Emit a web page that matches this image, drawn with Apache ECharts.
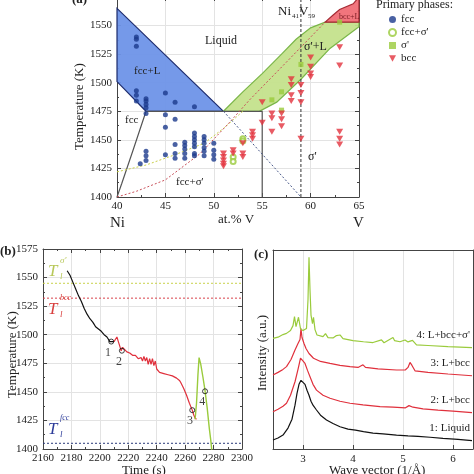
<!DOCTYPE html>
<html><head><meta charset="utf-8">
<script src="https://cdn.jsdelivr.net/npm/echarts@6/dist/echarts.min.js"></script>
<style>html,body{margin:0;padding:0;background:#fff}#c{width:474px;height:474px}</style>
</head><body><div id="c"></div>
<script>
// ---------- Panel (a) data ----------
const aXTicks = [40, 45, 50, 55, 60, 65];
const aYTicks = [1400, 1425, 1450, 1475, 1500, 1525, 1550];
const fccLPoly = [[40,1565],[51,1475],[43,1475],[40,1501]];
const sigLPoly = [[51,1475],[53,1492],[55,1508],[57,1525],[58.5,1538],[60,1548],[61.5,1553],[65,1553],[65,1549],[62,1530],[59,1503],[56.5,1483],[54.7,1475]];
const bccLPoly = [[61.5,1553],[62.3,1559],[63,1564],[64.4,1569],[65,1575],[65,1553]];
const fccSolvus = [[43,1475],[41.7,1442],[40.5,1412],[40,1400]];
const eutLine = [[43,1475],[55,1475],[55,1400]];
const sigMetaLine = [[40,1422],[43,1428],[46,1437],[49,1447],[51,1460],[53,1475]];
const bccMetaLine = [[40,1400],[42,1405],[45,1415],[48.6,1438],[51.7,1466],[53.7,1485],[57.5,1518],[61.5,1553]];
const fccMetaLine = [[51,1475],[59,1400]];
const compLine = [[59,1400],[59,1575]];
const fccPts = [[42,1540],[42,1538],[42,1532],[42,1493],[42,1489],[42,1484],[43,1486],[43,1484],[43,1481],[43,1478],[43,1473],[45,1491],[46,1483],[48,1479],[42.4,1429],[43,1440],[43,1436],[43,1432],[45,1472],[45,1461],[45,1437],[46,1468],[46,1446],[46,1438],[46,1434],[47,1448],[47,1445],[47,1442],[47,1438],[47,1434],[48,1456],[48,1453],[48,1450],[48,1447],[48,1444],[48,1438],[48,1436],[49,1453],[49,1450],[49,1447],[49,1443],[49,1440],[49,1436],[50,1447],[50,1441],[50,1437],[50,1433]];
const fccSigPts = [[52,1435],[52,1431],[53,1451],[53,1449]];
const sigPts = [[56,1485],[57,1492],[57,1476],[59,1516],[63,1553]];
const bccPts = [[51,1438],[51,1435],[51,1432],[51,1429],[51,1427],[52,1441],[52,1438],[53,1447],[53,1438],[53,1435],[54,1457],[54,1454],[54,1451],[55,1483],[55,1465],[56,1473],[56,1469],[56,1457],[57,1473],[57,1468],[57,1462],[58,1503],[58,1498],[58,1489],[58,1484],[59,1498],[59,1491],[59,1483],[59,1451],[60,1522],[60,1514],[60,1508],[60,1505],[63,1531],[63,1515],[63,1457],[63,1451],[63,1446]];

// ---------- Panel (b) data ----------
const bXTicks = [2160, 2180, 2200, 2220, 2240, 2260, 2280, 2300];
const coolBlack = [[2177,1556],[2179,1552],[2181,1546],[2183,1540],[2185,1534],[2187,1529],[2189,1523],[2191,1518],[2193,1514],[2195,1511],[2196,1509],[2197,1507],[2198,1507],[2199,1505],[2201,1503],[2203,1500],[2205,1498],[2206,1496],[2207,1494],[2208,1493],[2209,1494],[2210,1494]];
const coolRed = [[2210,1494],[2211,1496],[2212,1498],[2213,1494],[2214,1490],[2215,1486],[2216,1489],[2217,1488],[2219,1485],[2221,1484],[2223,1482],[2225,1482],[2227,1479],[2229,1480],[2230,1477],[2231,1481],[2232,1477],[2233,1480],[2234,1474],[2235,1479],[2236,1474],[2237,1479],[2238,1473],[2239,1477],[2240,1470],[2242,1467],[2245,1466],[2248,1465],[2251,1464],[2254,1462],[2256,1460],[2257,1458],[2259,1453],[2261,1447],[2263,1440],[2265,1434],[2266,1430],[2267,1427],[2268,1426]];
const coolGreen = [[2267,1426],[2268,1440],[2269,1465],[2269.8,1480],[2271,1474],[2272.5,1463],[2274,1451],[2275.5,1436],[2277,1418],[2278,1408],[2279,1396]];
const tSigma = 1545, tBcc = 1532, tFcc = 1405;
const bMarks = [[2208,1494],[2215.5,1486],[2265,1434],[2274,1450.5]];
const bMarkLabels = ['1','2','3','4'];
const bLabelPos = [[2205.8,1484],[2213.5,1476],[2263.5,1425],[2272,1441]];

// ---------- Panel (c) data ----------
const cXTicks = [3, 4, 5, 6];
const spec1 = [[2.4,4.5],[2.5,5.5],[2.6,7],[2.7,10.5],[2.78,15],[2.84,22],[2.88,28],[2.92,32.5],[2.96,34.5],[3.0,34],[3.04,32.5],[3.08,29.5],[3.12,27],[3.16,24],[3.2,22],[3.27,19.6],[3.35,17],[3.47,14.6],[3.6,12.8],[3.74,11.2],[3.9,10],[4.05,9.5],[4.21,8.7],[4.4,8],[4.6,7.6],[4.87,7],[5.1,6.6],[5.3,6.3],[5.54,5.9],[5.8,5.3],[6.1,4.8],[6.38,4.2]];
const spec2 = [[2.4,18.7],[2.5,20],[2.6,21.5],[2.67,23],[2.75,27],[2.84,33.8],[2.9,40],[2.95,45.6],[2.99,44.5],[3.04,43],[3.09,39.5],[3.14,36.3],[3.2,32.5],[3.27,29.6],[3.4,27],[3.54,25.5],[3.74,24],[3.94,23],[4.2,22.2],[4.54,21.3],[4.8,21],[5.05,20.7],[5.12,21.8],[5.15,22.2],[5.2,21],[5.4,20.2],[5.7,19.5],[6.0,19],[6.38,18.3]];
const spec3 = [[2.4,37.2],[2.5,38.5],[2.6,40],[2.67,41.4],[2.76,45],[2.84,49.7],[2.9,53],[2.94,55],[2.96,60.5],[2.98,56],[3.02,53],[3.06,50.5],[3.12,48],[3.21,45.6],[3.35,44],[3.54,43],[3.74,42],[3.94,41.4],[4.1,41],[4.2,42.3],[4.25,41],[4.5,40.3],[4.87,39.7],[5.05,39.8],[5.1,41],[5.14,43.5],[5.18,42],[5.24,39.3],[5.5,38.5],[5.9,37.7],[6.38,36.8]];
const spec4 = [[2.4,55.6],[2.5,56.2],[2.6,57.5],[2.67,58.1],[2.75,59.5],[2.8,62],[2.83,66.5],[2.86,61.5],[2.91,66.2],[2.95,60.5],[3.0,59.5],[3.07,60.6],[3.1,75],[3.12,96.3],[3.14,80],[3.16,67.3],[3.19,63],[3.21,66.2],[3.24,60],[3.28,57.3],[3.4,56.5],[3.45,58],[3.5,56],[3.6,55.8],[3.67,57],[3.7,56.5],[3.74,57.3],[3.8,55.5],[4.0,54.5],[4.21,53.9],[4.4,53.5],[4.57,54.8],[4.62,53.4],[4.8,56],[4.83,54.5],[4.94,53.9],[5.04,54.8],[5.1,53.8],[5.19,54.6],[5.27,52.3],[5.5,52],[5.9,51.4],[6.38,50.9]];
const specNames = ['1: Liquid','2: L+bcc','3: L+bcc',"4: L+bcc+σ'"];

// ---------- styling ----------
const FONT = 'Liberation Serif';
const BLUE = '#1c3a8c', RED = '#e2323d', GREEN = '#9acb3c', AX = '#444';
const downTri = 'path://M0,0L10,0L5,9Z';
const plainNum = v => String(v);

function polySeries(poly, fill, stroke, xi, yi) {
  return {
    type: 'custom', xAxisIndex: xi, yAxisIndex: yi, silent: true, z: 1,
    data: [0],
    renderItem: function (params, api) {
      const pts = poly.map(p => api.coord(p));
      return { type: 'polygon', shape: { points: pts },
        style: { fill: fill, stroke: stroke, lineWidth: 1.2 } };
    }
  };
}
function lineS(data, color, type, width, xi, yi, z) {
  return { type: 'line', data: data, xAxisIndex: xi, yAxisIndex: yi, symbol: 'none',
    silent: true, z: z || 2, lineStyle: { color: color, type: type, width: width }, animation: false };
}
function frameAxisX(gi, pos, min, max, interval, showLabel, extra) {
  return Object.assign({
    type: 'value', gridIndex: gi, position: pos, min: min, max: max, interval: interval,
    axisLine: { show: true, onZero: false, lineStyle: { color: AX, width: 1 } },
    axisTick: { show: true, inside: true, length: 4, lineStyle: { color: AX } },
    minorTick: { show: true, splitNumber: 2, length: 2, lineStyle: { color: AX } },
    axisLabel: { show: showLabel, fontFamily: FONT, fontSize: 11, color: '#222', margin: 4, formatter: plainNum },
    splitLine: { show: false }
  }, extra || {});
}
function frameAxisY(gi, pos, min, max, interval, showLabel, extra) {
  return Object.assign({
    type: 'value', gridIndex: gi, position: pos, min: min, max: max, interval: interval,
    axisLine: { show: true, onZero: false, lineStyle: { color: AX, width: 1 } },
    axisTick: { show: true, inside: true, length: 4, lineStyle: { color: AX } },
    minorTick: { show: true, splitNumber: 2, length: 2, lineStyle: { color: AX } },
    axisLabel: { show: showLabel, fontFamily: FONT, fontSize: 11, color: '#222', margin: 5, formatter: plainNum },
    splitLine: { show: false }
  }, extra || {});
}
const grayGrid = { show: true, lineStyle: { color: '#e3e3e3', width: 1 } };

const chart = echarts.init(document.getElementById('c'), null, { renderer: 'canvas' });

function txt(x, y, s, size, opts) {
  return Object.assign({ type: 'text', x: x, y: y, silent: true, z: 100,
    style: Object.assign({ text: s, fontFamily: FONT, fontSize: size, fill: '#222' }, (opts && opts.style) || {}) },
    opts && opts.rot !== undefined ? { rotation: opts.rot } : {});
}

const graphics = [
  txt(72, -7, '(a)', 13, { style: { fontWeight: 'bold' } }),
  txt(0, 245, '(b)', 13, { style: { fontWeight: 'bold' } }),
  txt(254, 248, '(c)', 13, { style: { fontWeight: 'bold' } }),
  txt(73, 150, 'Temperature (K)', 13, { rot: Math.PI / 2 }),
  txt(110, 216, 'Ni', 15),
  txt(218, 213, 'at.% V', 13),
  txt(353, 216, 'V', 15),
  txt(205, 35, 'Liquid', 12),
  txt(134, 66, 'fcc+L', 11),
  txt(125, 115, 'fcc', 11),
  txt(176, 177, "fcc+σ'", 11),
  txt(304, 41, "σ'+L", 12),
  txt(308, 151, "σ'", 12),
  txt(339, 13, 'bcc+L', 8, { style: { fill: '#7a1b22' } }),
  txt(278, 5, 'Ni', 13), txt(292, 13, '41', 7), txt(299, 5, 'V', 13), txt(308, 13, '59', 7),
  txt(376, -1, 'Primary phases:', 12),
  txt(6, 398, 'Temperature (K)', 13, { rot: Math.PI / 2 }),
  txt(122, 464, 'Time (s)', 13),
  txt(48, 263, 'T', 17, { style: { fill: '#b8c85a', fontStyle: 'italic' } }),
  txt(60, 256, "σ'", 9, { style: { fill: '#b8c85a', fontStyle: 'italic' } }),
  txt(60, 272, 'l', 9, { style: { fill: '#b8c85a', fontStyle: 'italic' } }),
  txt(48, 301, 'T', 17, { style: { fill: '#d9413f', fontStyle: 'italic' } }),
  txt(60, 294, 'bcc', 8, { style: { fill: '#d9413f', fontStyle: 'italic' } }),
  txt(60, 310, 'l', 9, { style: { fill: '#d9413f', fontStyle: 'italic' } }),
  txt(48, 421, 'T', 17, { style: { fill: '#2e3d9a', fontStyle: 'italic' } }),
  txt(60, 414, 'fcc', 8, { style: { fill: '#2e3d9a', fontStyle: 'italic' } }),
  txt(60, 430, 'l', 9, { style: { fill: '#2e3d9a', fontStyle: 'italic' } }),
  txt(256, 391, 'Intensity (a.u.)', 13, { rot: Math.PI / 2 }),
  txt(329, 464, 'Wave vector (1/Å)', 13)
];
const specLabelY = [423, 395, 358, 330];
specNames.forEach((n, i) => {
  graphics.push({ type: 'text', x: 470, y: specLabelY[i], silent: true, z: 100,
    style: { text: n, fontFamily: FONT, fontSize: 11, fill: '#222', align: 'right' } });
});

const option = {
  animation: false,
  backgroundColor: '#fff',
  grid: [
    { left: 117, top: -3, width: 242, height: 200, outerBoundsMode: 'none', containLabel: false },
    { left: 43, top: 249, width: 199, height: 200, outerBoundsMode: 'none', containLabel: false },
    { left: 273, top: 250, width: 200, height: 199, outerBoundsMode: 'none', containLabel: false }
  ],
  xAxis: [
    frameAxisX(0, 'bottom', aXTicks[0], aXTicks[aXTicks.length - 1], 5, true, { splitLine: grayGrid }),
    frameAxisX(0, 'top', aXTicks[0], aXTicks[aXTicks.length - 1], 5, false),
    frameAxisX(1, 'bottom', bXTicks[0], bXTicks[bXTicks.length - 1], 20, true, { splitLine: grayGrid }),
    frameAxisX(1, 'top', bXTicks[0], bXTicks[bXTicks.length - 1], 20, false),
    frameAxisX(2, 'bottom', 2.4, 6.4, null, true, {
      interval: undefined,
      axisLabel: { show: true, fontFamily: FONT, fontSize: 11, color: '#222', margin: 5, customValues: cXTicks, formatter: plainNum },
      axisTick: { show: true, inside: true, length: 4, lineStyle: { color: AX }, customValues: cXTicks },
      minorTick: { show: false },
      splitLine: grayGrid }),
    frameAxisX(2, 'top', 2.4, 6.4, null, false, { interval: undefined, axisTick: { show: false }, minorTick: { show: false } })
  ],
  yAxis: [
    frameAxisY(0, 'left', aYTicks[0], 1575, 25, true, {
      splitLine: grayGrid,
      axisLabel: { show: true, fontFamily: FONT, fontSize: 11, color: '#222', margin: 5,
        formatter: v => (v >= 1575 ? '' : String(v)) } }),
    frameAxisY(0, 'right', aYTicks[0], 1575, 25, false),
    frameAxisY(1, 'left', 1400, 1575, 25, true, { splitLine: grayGrid }),
    frameAxisY(1, 'right', 1400, 1575, 25, false),
    frameAxisY(2, 'left', 0, 100, 20, false, { axisTick: { show: false }, minorTick: { show: false } }),
    frameAxisY(2, 'right', 0, 100, 20, false, { axisTick: { show: false }, minorTick: { show: false } })
  ],
  legend: {
    orient: 'vertical', left: 383, top: 9, itemWidth: 7, itemHeight: 7, itemGap: 2,
    textStyle: { fontFamily: FONT, fontSize: 11, color: '#222' },
    data: [
      { name: 'fcc', icon: 'circle' },
      { name: "fcc+σ'", icon: 'emptyCircle' },
      { name: "σ'", icon: 'rect' },
      { name: 'bcc', icon: downTri }
    ]
  },
  graphic: graphics,
  series: [
    polySeries(fccLPoly, 'rgba(110,148,232,0.95)', '#1f2d6e', 0, 0),
    polySeries(sigLPoly, 'rgba(196,226,140,0.95)', '#7ab648', 0, 0),
    polySeries(bccLPoly, 'rgba(240,110,118,0.95)', '#a52a33', 0, 0),
    lineS(fccSolvus, '#555', 'solid', 1.2, 0, 0, 3),
    lineS(eutLine, '#555', 'solid', 1.2, 0, 0, 3),
    lineS(sigMetaLine, '#c9d04a', [2, 2], 1, 0, 0, 3),
    lineS(bccMetaLine, '#c8505a', [2, 2], 1, 0, 0, 3),
    lineS(fccMetaLine, '#4a5a8a', [2, 2], 1, 0, 0, 3),
    lineS(compLine, '#333', [3, 2], 1, 0, 0, 3),
    { name: 'fcc', type: 'scatter', xAxisIndex: 0, yAxisIndex: 0, data: fccPts, symbol: 'circle', symbolSize: 5,
      itemStyle: { color: BLUE }, z: 5 },
    { name: "fcc+σ'", type: 'scatter', xAxisIndex: 0, yAxisIndex: 0, data: fccSigPts, symbol: 'emptyCircle', symbolSize: 5,
      itemStyle: { color: GREEN, borderColor: GREEN, borderWidth: 1 }, z: 5 },
    { name: "σ'", type: 'scatter', xAxisIndex: 0, yAxisIndex: 0, data: sigPts, symbol: 'rect', symbolSize: 5,
      itemStyle: { color: GREEN }, z: 5 },
    { name: 'bcc', type: 'scatter', xAxisIndex: 0, yAxisIndex: 0, data: bccPts, symbol: downTri, symbolSize: [7, 6],
      itemStyle: { color: RED }, z: 5 },
    lineS([[2160, tSigma], [2300, tSigma]], '#c8d24a', [2, 2], 1, 2, 2, 2),
    lineS([[2160, tBcc], [2300, tBcc]], '#d8404a', [2, 2], 1, 2, 2, 2),
    lineS([[2160, tFcc], [2300, tFcc]], '#2a3a7a', [2, 2], 1, 2, 2, 2),
    lineS(coolBlack, '#111', 'solid', 1.2, 2, 2, 4),
    lineS(coolRed, '#e0303c', 'solid', 1.2, 2, 2, 4),
    lineS(coolGreen, GREEN, 'solid', 1.4, 2, 2, 4),
    { type: 'scatter', xAxisIndex: 2, yAxisIndex: 2, data: bMarks, symbol: 'circle', symbolSize: 5,
      itemStyle: { color: 'rgba(255,255,255,0)', borderColor: '#111', borderWidth: 1 }, z: 6, silent: true },
    { type: 'scatter', xAxisIndex: 2, yAxisIndex: 2, symbolSize: 0, z: 6, silent: true,
      data: bLabelPos.map((p, i) => ({ value: p, label: { show: true, formatter: bMarkLabels[i] } })),
      label: { position: 'inside', fontFamily: FONT, fontSize: 12, color: '#111' } },
    lineS(spec1, '#111', 'solid', 1.2, 4, 4, 4),
    lineS(spec2, '#e0303c', 'solid', 1.2, 4, 4, 4),
    lineS(spec3, '#e0303c', 'solid', 1.2, 4, 4, 4),
    lineS(spec4, GREEN, 'solid', 1.2, 4, 4, 4)
  ]
};
chart.setOption(option);
</script>
</body></html>
